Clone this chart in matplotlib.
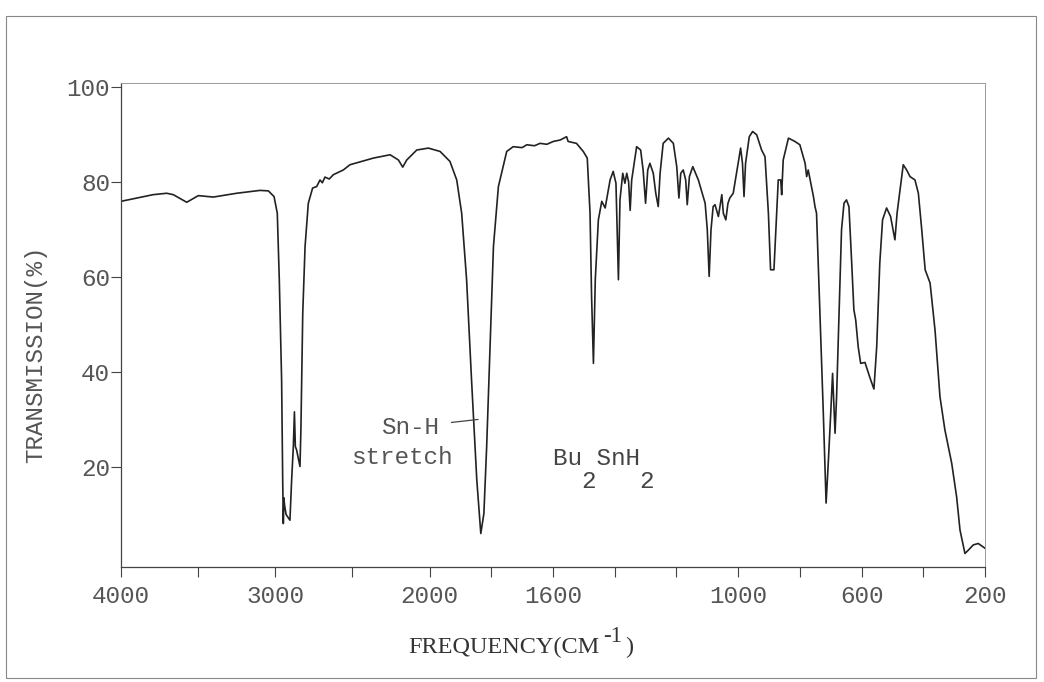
import numpy as np
import matplotlib
matplotlib.use('Agg')
import matplotlib.pyplot as plt
from matplotlib.patches import Rectangle

# IR spectrum of Bu2SnH2
wavenumber = [4000, 3792, 3704, 3661, 3574, 3499, 3402, 3250, 3099, 3045, 3008, 2987,
              2974, 2959, 2952, 2948, 2944, 2940, 2930, 2905, 2894, 2883, 2876, 2870,
              2862, 2840, 2834, 2822, 2807, 2786, 2758, 2732, 2710, 2695, 2678, 2650,
              2624, 2559, 2516, 2440, 2364, 2256, 2202, 2174, 2148, 2083, 2008, 1966,
              1934, 1912, 1896, 1880, 1864, 1847, 1834, 1824, 1815, 1804, 1793, 1777,
              1750, 1729, 1700, 1685, 1660, 1642, 1620, 1599, 1577, 1556, 1551, 1524,
              1502, 1489, 1480, 1475, 1469, 1463, 1453, 1442, 1431, 1415, 1405, 1396,
              1388, 1383, 1374, 1367, 1361, 1355, 1350, 1345, 1329, 1316, 1308, 1300,
              1293, 1286, 1275, 1267, 1259, 1253, 1243, 1226, 1210, 1199, 1192, 1186,
              1178, 1170, 1165, 1158, 1147, 1129, 1107, 1100, 1094, 1088, 1081, 1075,
              1064, 1053, 1048, 1040, 1033, 1027, 1016, 1000, 992, 986, 981, 976,
              964, 953, 940, 924, 913, 902, 895, 884, 875, 870, 862, 859,
              854, 837, 816, 800, 783, 778, 773, 756, 751, 746, 735, 724,
              715, 708, 700, 694, 690, 686, 681, 673, 665, 657, 649, 641,
              632, 625, 619, 611, 603, 589, 573, 560, 551, 541, 532, 519,
              506, 492, 485, 474, 465, 454, 443, 427, 416, 405, 394, 378,
              362, 346, 330, 308, 292, 281, 265, 254, 238, 222, 200]
transmission = [75.9, 77.3, 77.6, 77.3, 75.7, 77.1, 76.8, 77.6, 78.2, 78.1, 76.9, 73.4,
                59.4, 38.3, 17.3, 8.1, 13.5, 12.0, 10.0, 8.8, 17.3, 24.3, 31.6, 24.3,
                23.6, 20.1, 27.8, 52.4, 66.4, 75.5, 78.7, 79.0, 80.4, 79.8, 81.0, 80.6,
                81.5, 82.5, 83.6, 84.3, 85.0, 85.7, 84.6, 83.1, 84.6, 86.7, 87.1, 86.4,
                84.3, 80.4, 73.4, 59.4, 38.3, 17.3, 6.0, 10.2, 24.3, 45.3, 66.4, 79.0,
                86.4, 87.4, 87.2, 87.8, 87.6, 88.1, 87.9, 88.5, 88.8, 89.5, 88.5, 88.1,
                86.4, 85.0, 73.4, 55.9, 41.8, 59.4, 72.0, 75.9, 74.5, 80.4, 82.2, 79.7,
                59.4, 76.2, 81.8, 79.7, 81.8, 80.0, 74.0, 80.4, 87.4, 86.7, 82.5, 75.5,
                82.5, 83.9, 81.8, 77.6, 74.8, 81.8, 88.1, 89.2, 88.1, 83.2, 76.6, 81.8,
                82.5, 80.4, 75.2, 81.1, 83.2, 80.4, 75.5, 69.9, 60.1, 69.9, 74.8, 75.2,
                72.7, 77.3, 73.4, 72.0, 75.5, 76.6, 77.6, 83.9, 87.1, 83.9, 76.9, 83.9,
                89.5, 90.6, 89.9, 86.7, 85.3, 73.4, 61.5, 61.5, 73.4, 80.4, 80.4, 77.3,
                84.6, 89.2, 88.5, 87.8, 83.9, 81.1, 82.5, 76.9, 74.8, 73.4, 52.4, 31.3,
                12.4, 20.8, 31.3, 39.7, 33.4, 27.1, 34.8, 52.4, 69.9, 75.5, 76.2, 74.8,
                62.9, 53.1, 50.9, 45.3, 41.8, 42.0, 38.8, 36.4, 45.3, 62.9, 72.0, 74.5,
                72.7, 67.8, 73.4, 79.0, 83.6, 82.5, 81.1, 80.4, 77.6, 69.9, 61.5, 58.7,
                48.8, 34.8, 27.8, 20.8, 13.7, 6.7, 1.8, 2.5, 3.6, 3.9, 2.9]

major_ticks = [4000, 3000, 2000, 1600, 1000, 600, 200]
minor_ticks = [3500, 2500, 1800, 1400, 1200, 800, 400]
y_ticks = [20, 40, 60, 80, 100]

mono = 'Liberation Mono'
serif = 'Liberation Serif'
ink = '#555555'


# chart paper: 4000-2000 is drawn at half the scale of 2000-200
def forward(x):
    x = np.asarray(x, dtype=float)
    return np.where(x > 2000, 2000 + (x - 2000) / 2, x)


def inverse(y):
    y = np.asarray(y, dtype=float)
    return np.where(y > 2000, 2000 + (y - 2000) * 2, y)


fig = plt.figure(figsize=(10.44, 6.82), dpi=100)
ax = fig.add_axes([0.1159, 0.1686, 0.8276, 0.7097])
ax.set_xscale('function', functions=(forward, inverse))

ax.plot(wavenumber, transmission, color='#222222', lw=1.2)

ax.set_xlim(4000, 200)
ax.set_ylim(-1.05, 100.8)

ax.set_xticks(major_ticks)
ax.set_xticklabels([str(t) for t in major_ticks])
ax.set_xticks(minor_ticks, minor=True)
ax.set_yticks(y_ticks)
ax.set_yticklabels([str(t) for t in y_ticks])

for lab in ax.get_xticklabels() + ax.get_yticklabels():
    lab.set_fontfamily(mono)
    lab.set_fontsize(17.5)
    lab.set_color(ink)

ax.tick_params(axis='x', which='both', direction='out', length=7, width=0.8,
               color='#444444', pad=6)
ax.tick_params(axis='y', direction='out', length=7, width=0.8,
               color='#444444', pad=1)

for side in ['left', 'bottom']:
    ax.spines[side].set_color('#444444')
    ax.spines[side].set_linewidth(0.9)
for side in ['top', 'right']:
    ax.spines[side].set_color('#999999')
    ax.spines[side].set_linewidth(0.7)

ax.set_ylabel('TRANSMISSION(%)', fontfamily=mono, fontsize=17.5, color=ink)
ax.yaxis.set_label_coords(-0.085, 0.44)

# x label with a full size raised "-1", as typed on the original
ax.text(0.554, -0.167, 'FREQUENCY(CM', transform=ax.transAxes, fontfamily=serif,
        fontsize=17.5, color='#333333', ha='right', va='center')
ax.text(0.558, -0.143, '-1', transform=ax.transAxes, fontfamily=serif,
        fontsize=16.5, color='#333333', ha='left', va='center')
ax.text(0.583, -0.167, ')', transform=ax.transAxes, fontfamily=serif,
        fontsize=17.5, color='#333333', ha='left', va='center')

# annotations
ax.annotate('Sn-H', xy=(1843, 30), xytext=(2127, 28.4), fontfamily=mono,
            fontsize=17.5, color=ink, ha='center', va='center',
            arrowprops=dict(arrowstyle='-', color='#444444', lw=0.9, shrinkA=7, shrinkB=0))
ax.text(2178, 21.9, 'stretch', fontfamily=mono, fontsize=17.5, color=ink,
        ha='center', va='center')
ax.text(1600, 20.5, 'Bu SnH', fontfamily=mono, fontsize=17.5, color='#444444',
        ha='left', va='baseline')
ax.text(1600, 15.5, '  2   2', fontfamily=mono, fontsize=17.5, color='#444444',
        ha='left', va='baseline')

# outer frame of the scanned page
fig.patches.append(Rectangle((0.0057, 0.0059), 0.9866, 0.9707, transform=fig.transFigure,
                             fill=False, edgecolor='#888888', lw=0.8))

fig.savefig('out.png', dpi=100)
